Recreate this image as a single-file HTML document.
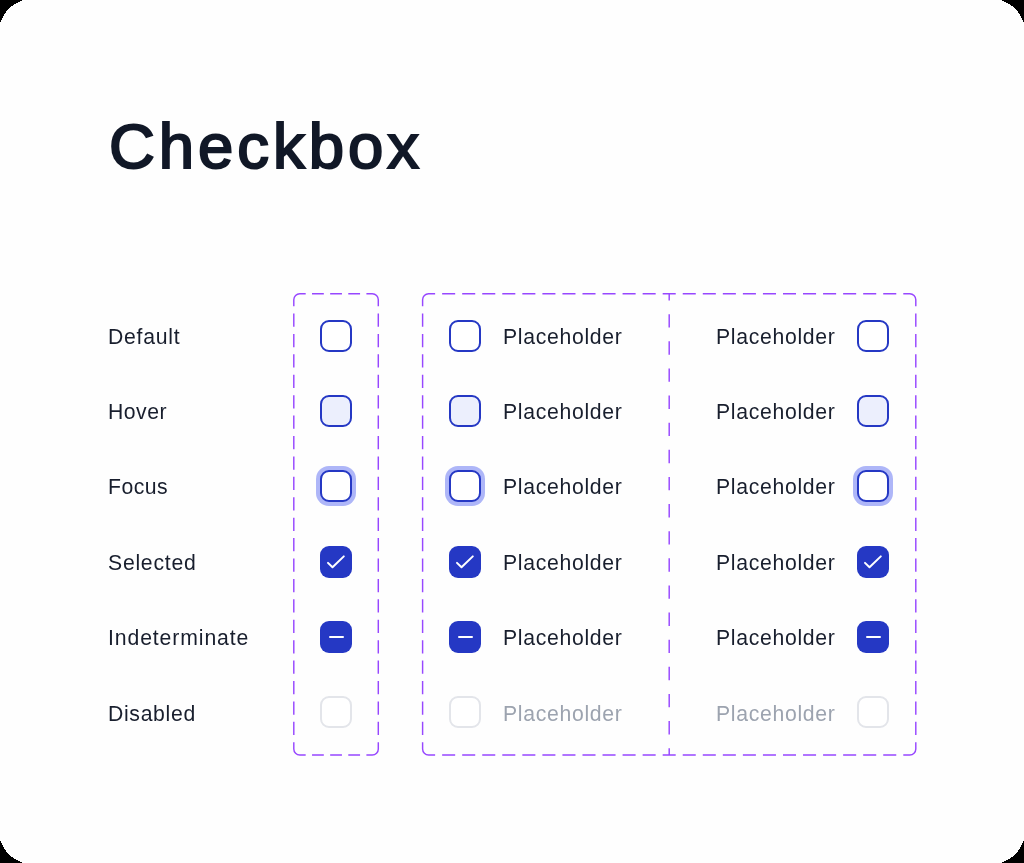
<!DOCTYPE html>
<html><head><meta charset="utf-8"><style>
html,body{margin:0;padding:0;background:#000;width:1024px;height:863px;overflow:hidden}
#card{position:absolute;left:0;top:0;width:1024px;height:863px;background:#fefefe;overflow:hidden}
</style></head><body><div id="card">
<svg width="1024" height="863" style="position:absolute;left:0;top:0" fill="none" stroke="#9747ff" stroke-width="1.45"><path d="M305.69 293.70H299.80A6 6 0 0 0 293.80 299.70V306.34M366.41 293.70H372.30A6 6 0 0 1 378.30 299.70V306.34M378.30 742.26V748.90A6 6 0 0 1 372.30 754.90H366.41M305.69 754.90H299.80A6 6 0 0 1 293.80 748.90V742.26M312.03 293.70H323.82M312.03 754.90H323.82M330.16 293.70H341.94M330.16 754.90H341.94M348.28 293.70H360.07M348.28 754.90H360.07M293.80 313.48V326.75M378.30 313.48V326.75M293.80 333.90V347.17M378.30 333.90V347.17M293.80 354.32V367.59M378.30 354.32V367.59M293.80 374.74V388.01M378.30 374.74V388.01M293.80 395.15V408.43M378.30 395.15V408.43M293.80 415.57V428.84M378.30 415.57V428.84M293.80 435.99V449.26M378.30 435.99V449.26M293.80 456.41V469.68M378.30 456.41V469.68M293.80 476.83V490.10M378.30 476.83V490.10M293.80 497.25V510.52M378.30 497.25V510.52M293.80 517.66V530.94M378.30 517.66V530.94M293.80 538.08V551.35M378.30 538.08V551.35M293.80 558.50V571.77M378.30 558.50V571.77M293.80 578.92V592.19M378.30 578.92V592.19M293.80 599.34V612.61M378.30 599.34V612.61M293.80 619.75V633.03M378.30 619.75V633.03M293.80 640.17V653.44M378.30 640.17V653.44M293.80 660.59V673.86M378.30 660.59V673.86M293.80 681.01V694.28M378.30 681.01V694.28M293.80 701.43V714.70M378.30 701.43V714.70M293.80 721.85V735.12M378.30 721.85V735.12M435.12 293.70H428.60A6 6 0 0 0 422.60 299.70V306.34M903.28 293.70H909.80A6 6 0 0 1 915.80 299.70V306.34M915.80 742.26V748.90A6 6 0 0 1 909.80 754.90H903.28M435.12 754.90H428.60A6 6 0 0 1 422.60 748.90V742.26M442.13 293.70H455.17M442.13 754.90H455.17M462.18 293.70H475.22M462.18 754.90H475.22M482.23 293.70H495.27M482.23 754.90H495.27M502.28 293.70H515.32M502.28 754.90H515.32M522.33 293.70H535.37M522.33 754.90H535.37M542.38 293.70H555.42M542.38 754.90H555.42M562.43 293.70H575.47M562.43 754.90H575.47M582.48 293.70H595.52M582.48 754.90H595.52M602.53 293.70H615.57M602.53 754.90H615.57M622.58 293.70H635.62M622.58 754.90H635.62M642.63 293.70H655.67M642.63 754.90H655.67M662.68 293.70H675.72M662.68 754.90H675.72M682.73 293.70H695.77M682.73 754.90H695.77M702.78 293.70H715.82M702.78 754.90H715.82M722.83 293.70H735.87M722.83 754.90H735.87M742.88 293.70H755.92M742.88 754.90H755.92M762.93 293.70H775.97M762.93 754.90H775.97M782.98 293.70H796.02M782.98 754.90H796.02M803.03 293.70H816.07M803.03 754.90H816.07M823.08 293.70H836.12M823.08 754.90H836.12M843.13 293.70H856.17M843.13 754.90H856.17M863.18 293.70H876.22M863.18 754.90H876.22M883.23 293.70H896.27M883.23 754.90H896.27M422.60 313.48V326.75M915.80 313.48V326.75M422.60 333.90V347.17M915.80 333.90V347.17M422.60 354.32V367.59M915.80 354.32V367.59M422.60 374.74V388.01M915.80 374.74V388.01M422.60 395.15V408.43M915.80 395.15V408.43M422.60 415.57V428.84M915.80 415.57V428.84M422.60 435.99V449.26M915.80 435.99V449.26M422.60 456.41V469.68M915.80 456.41V469.68M422.60 476.83V490.10M915.80 476.83V490.10M422.60 497.25V510.52M915.80 497.25V510.52M422.60 517.66V530.94M915.80 517.66V530.94M422.60 538.08V551.35M915.80 538.08V551.35M422.60 558.50V571.77M915.80 558.50V571.77M422.60 578.92V592.19M915.80 578.92V592.19M422.60 599.34V612.61M915.80 599.34V612.61M422.60 619.75V633.03M915.80 619.75V633.03M422.60 640.17V653.44M915.80 640.17V653.44M422.60 660.59V673.86M915.80 660.59V673.86M422.60 681.01V694.28M915.80 681.01V694.28M422.60 701.43V714.70M915.80 701.43V714.70M422.60 721.85V735.12M915.80 721.85V735.12M669.20 293.70V300.38M669.20 748.22V754.90M669.20 314.15V327.51M669.20 341.28V354.64M669.20 368.41V381.77M669.20 395.54V408.90M669.20 422.67V436.03M669.20 449.79V463.16M669.20 476.92V490.29M669.20 504.05V517.42M669.20 531.18V544.55M669.20 558.31V571.68M669.20 585.44V598.81M669.20 612.57V625.93M669.20 639.70V653.06M669.20 666.83V680.19M669.20 693.96V707.32M669.20 721.09V734.45"/></svg>
<svg width="1024" height="863" style="position:absolute;left:0;top:0" shape-rendering="crispEdges"><path fill="#000" d="M0 0h22v1h-22zM1002 0h22v1h-22zM0 862h22v1h-22zM1002 862h22v1h-22zM0 1h20v1h-20zM1004 1h20v1h-20zM0 861h20v1h-20zM1004 861h20v1h-20zM0 2h18v1h-18zM1006 2h18v1h-18zM0 860h18v1h-18zM1006 860h18v1h-18zM0 3h16v1h-16zM1008 3h16v1h-16zM0 859h16v1h-16zM1008 859h16v1h-16zM0 4h14v1h-14zM1010 4h14v1h-14zM0 858h14v1h-14zM1010 858h14v1h-14zM0 5h13v1h-13zM1011 5h13v1h-13zM0 857h13v1h-13zM1011 857h13v1h-13zM0 6h11v1h-11zM1013 6h11v1h-11zM0 856h11v1h-11zM1013 856h11v1h-11zM0 7h10v1h-10zM1014 7h10v1h-10zM0 855h10v1h-10zM1014 855h10v1h-10zM0 8h9v1h-9zM1015 8h9v1h-9zM0 854h9v1h-9zM1015 854h9v1h-9zM0 9h8v1h-8zM1016 9h8v1h-8zM0 853h8v1h-8zM1016 853h8v1h-8zM0 10h7v1h-7zM1017 10h7v1h-7zM0 852h7v1h-7zM1017 852h7v1h-7zM0 11h6v1h-6zM1018 11h6v1h-6zM0 851h6v1h-6zM1018 851h6v1h-6zM0 12h6v1h-6zM1018 12h6v1h-6zM0 850h6v1h-6zM1018 850h6v1h-6zM0 13h5v1h-5zM1019 13h5v1h-5zM0 849h5v1h-5zM1019 849h5v1h-5zM0 14h4v1h-4zM1020 14h4v1h-4zM0 848h4v1h-4zM1020 848h4v1h-4zM0 15h4v1h-4zM1020 15h4v1h-4zM0 847h4v1h-4zM1020 847h4v1h-4zM0 16h3v1h-3zM1021 16h3v1h-3zM0 846h3v1h-3zM1021 846h3v1h-3zM0 17h3v1h-3zM1021 17h3v1h-3zM0 845h3v1h-3zM1021 845h3v1h-3zM0 18h2v1h-2zM1022 18h2v1h-2zM0 844h2v1h-2zM1022 844h2v1h-2zM0 19h2v1h-2zM1022 19h2v1h-2zM0 843h2v1h-2zM1022 843h2v1h-2zM0 20h1v1h-1zM1023 20h1v1h-1zM0 842h1v1h-1zM1023 842h1v1h-1zM0 21h1v1h-1zM1023 21h1v1h-1zM0 841h1v1h-1zM1023 841h1v1h-1z"/></svg>
<div style="position:absolute;left:108.50px;top:114.55px;font:400 63.5px/1 'Liberation Sans',sans-serif;color:#111827;letter-spacing:3.95px;white-space:nowrap;will-change:transform;-webkit-text-stroke:2.1px #111827">Checkbox</div><div style="position:absolute;left:107.60px;top:326.35px;font:400 21.2px/1 'Liberation Sans',sans-serif;color:#181e2d;letter-spacing:0.75px;white-space:nowrap;will-change:transform;">Default</div><div style="position:absolute;left:320.10px;top:319.80px;width:32px;height:32px;box-sizing:border-box;border-radius:9px;border:2.0px solid #2538c4;background:#fff;"></div><div style="position:absolute;left:449.20px;top:319.80px;width:32px;height:32px;box-sizing:border-box;border-radius:9px;border:2.0px solid #2538c4;background:#fff;"></div><div style="position:absolute;left:857.20px;top:319.80px;width:32px;height:32px;box-sizing:border-box;border-radius:9px;border:2.0px solid #2538c4;background:#fff;"></div><div style="position:absolute;left:503.20px;top:326.35px;font:400 21.2px/1 'Liberation Sans',sans-serif;color:#181e2d;letter-spacing:0.7px;white-space:nowrap;will-change:transform;">Placeholder</div><div style="position:absolute;left:716.30px;top:326.35px;font:400 21.2px/1 'Liberation Sans',sans-serif;color:#181e2d;letter-spacing:0.7px;white-space:nowrap;will-change:transform;">Placeholder</div><div style="position:absolute;left:107.60px;top:401.35px;font:400 21.2px/1 'Liberation Sans',sans-serif;color:#181e2d;letter-spacing:0.5px;white-space:nowrap;will-change:transform;">Hover</div><div style="position:absolute;left:320.10px;top:395.10px;width:32px;height:32px;box-sizing:border-box;border-radius:9px;border:2.0px solid #2538c4;background:#eceffd;"></div><div style="position:absolute;left:449.20px;top:395.10px;width:32px;height:32px;box-sizing:border-box;border-radius:9px;border:2.0px solid #2538c4;background:#eceffd;"></div><div style="position:absolute;left:857.20px;top:395.10px;width:32px;height:32px;box-sizing:border-box;border-radius:9px;border:2.0px solid #2538c4;background:#eceffd;"></div><div style="position:absolute;left:503.20px;top:401.35px;font:400 21.2px/1 'Liberation Sans',sans-serif;color:#181e2d;letter-spacing:0.7px;white-space:nowrap;will-change:transform;">Placeholder</div><div style="position:absolute;left:716.30px;top:401.35px;font:400 21.2px/1 'Liberation Sans',sans-serif;color:#181e2d;letter-spacing:0.7px;white-space:nowrap;will-change:transform;">Placeholder</div><div style="position:absolute;left:107.60px;top:476.45px;font:400 21.2px/1 'Liberation Sans',sans-serif;color:#181e2d;letter-spacing:0.5px;white-space:nowrap;will-change:transform;">Focus</div><div style="position:absolute;left:320.10px;top:470.40px;width:32px;height:32px;box-sizing:border-box;border-radius:9px;border:2.0px solid #2538c4;background:#fff;box-shadow:0 0 0 4px #aeb6f8;"></div><div style="position:absolute;left:449.20px;top:470.40px;width:32px;height:32px;box-sizing:border-box;border-radius:9px;border:2.0px solid #2538c4;background:#fff;box-shadow:0 0 0 4px #aeb6f8;"></div><div style="position:absolute;left:857.20px;top:470.40px;width:32px;height:32px;box-sizing:border-box;border-radius:9px;border:2.0px solid #2538c4;background:#fff;box-shadow:0 0 0 4px #aeb6f8;"></div><div style="position:absolute;left:503.20px;top:476.45px;font:400 21.2px/1 'Liberation Sans',sans-serif;color:#181e2d;letter-spacing:0.7px;white-space:nowrap;will-change:transform;">Placeholder</div><div style="position:absolute;left:716.30px;top:476.45px;font:400 21.2px/1 'Liberation Sans',sans-serif;color:#181e2d;letter-spacing:0.7px;white-space:nowrap;will-change:transform;">Placeholder</div><div style="position:absolute;left:107.60px;top:552.05px;font:400 21.2px/1 'Liberation Sans',sans-serif;color:#181e2d;letter-spacing:0.75px;white-space:nowrap;will-change:transform;">Selected</div><div style="position:absolute;left:320.10px;top:545.70px;width:32px;height:32px;box-sizing:border-box;border-radius:9px;background:#2538c4;"><svg width="32" height="32" viewBox="0 0 32 32" style="position:absolute;left:0;top:0"><path d="M8 16.9L12.5 21.3L23.8 10.4" fill="none" stroke="#fff" stroke-width="2" stroke-linecap="round" stroke-linejoin="round"/></svg></div><div style="position:absolute;left:449.20px;top:545.70px;width:32px;height:32px;box-sizing:border-box;border-radius:9px;background:#2538c4;"><svg width="32" height="32" viewBox="0 0 32 32" style="position:absolute;left:0;top:0"><path d="M8 16.9L12.5 21.3L23.8 10.4" fill="none" stroke="#fff" stroke-width="2" stroke-linecap="round" stroke-linejoin="round"/></svg></div><div style="position:absolute;left:857.20px;top:545.70px;width:32px;height:32px;box-sizing:border-box;border-radius:9px;background:#2538c4;"><svg width="32" height="32" viewBox="0 0 32 32" style="position:absolute;left:0;top:0"><path d="M8 16.9L12.5 21.3L23.8 10.4" fill="none" stroke="#fff" stroke-width="2" stroke-linecap="round" stroke-linejoin="round"/></svg></div><div style="position:absolute;left:503.20px;top:552.05px;font:400 21.2px/1 'Liberation Sans',sans-serif;color:#181e2d;letter-spacing:0.7px;white-space:nowrap;will-change:transform;">Placeholder</div><div style="position:absolute;left:716.30px;top:552.05px;font:400 21.2px/1 'Liberation Sans',sans-serif;color:#181e2d;letter-spacing:0.7px;white-space:nowrap;will-change:transform;">Placeholder</div><div style="position:absolute;left:107.60px;top:627.35px;font:400 21.2px/1 'Liberation Sans',sans-serif;color:#181e2d;letter-spacing:0.9px;white-space:nowrap;will-change:transform;">Indeterminate</div><div style="position:absolute;left:320.10px;top:621.00px;width:32px;height:32px;box-sizing:border-box;border-radius:9px;background:#2538c4;"><div style="position:absolute;left:8.45px;top:14.95px;width:15.1px;height:2.1px;background:#fff;border-radius:1.05px"></div></div><div style="position:absolute;left:449.20px;top:621.00px;width:32px;height:32px;box-sizing:border-box;border-radius:9px;background:#2538c4;"><div style="position:absolute;left:8.45px;top:14.95px;width:15.1px;height:2.1px;background:#fff;border-radius:1.05px"></div></div><div style="position:absolute;left:857.20px;top:621.00px;width:32px;height:32px;box-sizing:border-box;border-radius:9px;background:#2538c4;"><div style="position:absolute;left:8.45px;top:14.95px;width:15.1px;height:2.1px;background:#fff;border-radius:1.05px"></div></div><div style="position:absolute;left:503.20px;top:627.35px;font:400 21.2px/1 'Liberation Sans',sans-serif;color:#181e2d;letter-spacing:0.7px;white-space:nowrap;will-change:transform;">Placeholder</div><div style="position:absolute;left:716.30px;top:627.35px;font:400 21.2px/1 'Liberation Sans',sans-serif;color:#181e2d;letter-spacing:0.7px;white-space:nowrap;will-change:transform;">Placeholder</div><div style="position:absolute;left:107.60px;top:702.55px;font:400 21.2px/1 'Liberation Sans',sans-serif;color:#181e2d;letter-spacing:0.68px;white-space:nowrap;will-change:transform;">Disabled</div><div style="position:absolute;left:320.10px;top:696.30px;width:32px;height:32px;box-sizing:border-box;border-radius:9px;border:2.0px solid #e3e5ea;background:#fff;"></div><div style="position:absolute;left:449.20px;top:696.30px;width:32px;height:32px;box-sizing:border-box;border-radius:9px;border:2.0px solid #e3e5ea;background:#fff;"></div><div style="position:absolute;left:857.20px;top:696.30px;width:32px;height:32px;box-sizing:border-box;border-radius:9px;border:2.0px solid #e3e5ea;background:#fff;"></div><div style="position:absolute;left:503.20px;top:702.55px;font:400 21.2px/1 'Liberation Sans',sans-serif;color:#9ca3af;letter-spacing:0.7px;white-space:nowrap;will-change:transform;">Placeholder</div><div style="position:absolute;left:716.30px;top:702.55px;font:400 21.2px/1 'Liberation Sans',sans-serif;color:#9ca3af;letter-spacing:0.7px;white-space:nowrap;will-change:transform;">Placeholder</div>
</div></body></html>
